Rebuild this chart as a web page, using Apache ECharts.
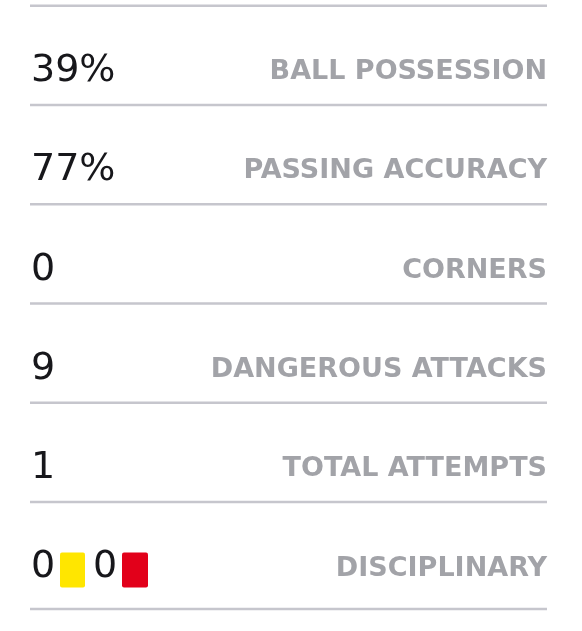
<!DOCTYPE html>
<html>
<head>
<meta charset="utf-8">
<style>
html,body{margin:0;padding:0;background:#fff;}
#chart{width:582px;height:631px;}
</style>
<script src="https://cdn.jsdelivr.net/npm/echarts@6/dist/echarts.min.js"></script>
</head>
<body>
<div id="chart"></div>
<script>
const statLabels = ['BALL POSSESSION', 'PASSING ACCURACY', 'CORNERS', 'DANGEROUS ATTACKS', 'TOTAL ATTEMPTS', 'DISCIPLINARY'];
const statValues = ['39%', '77%', '0', '9', '1', null];
const yellowCards = 0;
const redCards = 0;

const rows = statLabels.map((l, i) => [i, statValues[i], l]);

const chart = echarts.init(document.getElementById('chart'));
const LINE = '#c6c6cd';
const VALUE_FONT = 'normal 38px "DejaVu Sans"';
const LABEL_FONT = 'bold 27px "DejaVu Sans"';

function renderItem(params, api) {
  const i = api.value(0);
  const idx = params.dataIndex;
  const top = api.coord([0, i])[1];
  const next = api.coord([0, i + 1])[1];
  const left = api.coord([0, 0])[0];
  const right = api.coord([1, 0])[0];
  const rh = next - top;
  const cy = top + rh * 0.66;
  const children = [];
  children.push({type: 'line', shape: {x1: left, y1: top, x2: right, y2: top},
    style: {stroke: LINE, lineWidth: 2.5}});
  if (idx === rows.length - 1) {
    const bot = top + rh * 1.077;
    children.push({type: 'line', shape: {x1: left, y1: bot, x2: right, y2: bot},
      style: {stroke: LINE, lineWidth: 2.5}});
  }
  const v = rows[idx][1];
  if (v !== null) {
    children.push({type: 'text', x: left + 1, y: cy,
      style: {text: v, font: VALUE_FONT, fill: '#17171b', textAlign: 'left', textVerticalAlign: 'middle'}});
  } else {
    // disciplinary: yellow / red card counts
    children.push({type: 'text', x: left + 1, y: cy,
      style: {text: String(yellowCards), font: VALUE_FONT, fill: '#17171b', textAlign: 'left', textVerticalAlign: 'middle'}});
    children.push({type: 'rect', shape: {x: left + 30, y: cy - 15, width: 25, height: 35, r: 2},
      style: {fill: '#ffe600'}});
    children.push({type: 'text', x: left + 63, y: cy,
      style: {text: String(redCards), font: VALUE_FONT, fill: '#17171b', textAlign: 'left', textVerticalAlign: 'middle'}});
    children.push({type: 'rect', shape: {x: left + 92, y: cy - 15, width: 26, height: 35, r: 2},
      style: {fill: '#e2001a'}});
  }
  children.push({type: 'text', x: right, y: cy + 1,
    style: {text: rows[idx][2], font: LABEL_FONT, fill: '#a2a3a8', textAlign: 'right', textVerticalAlign: 'middle'}});
  return {type: 'group', children: children};
}

chart.setOption({
  animation: false,
  grid: {left: 30, right: 35, top: 5.7, height: 595.6},
  xAxis: {type: 'value', min: 0, max: 1, show: false},
  yAxis: {type: 'value', min: 0, max: 6, inverse: true, show: false},
  series: [{
    type: 'custom',
    renderItem: renderItem,
    encode: {y: 0},
    data: rows.map(r => [r[0]]),
    clip: false
  }]
});
</script>
</body>
</html>
